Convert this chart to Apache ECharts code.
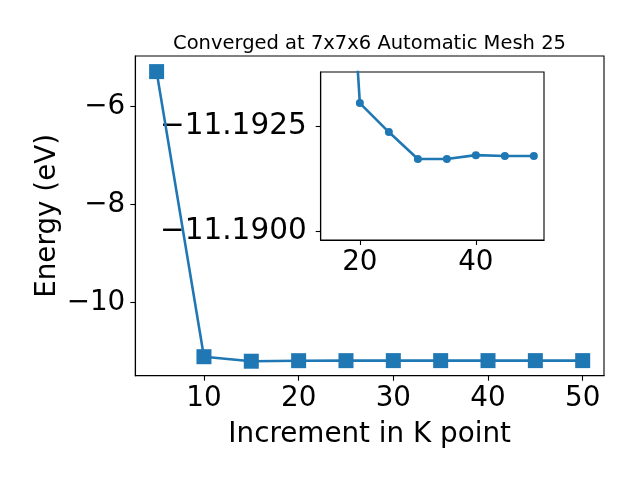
<!DOCTYPE html>
<html>
<head>
<meta charset="utf-8">
<script src="https://cdn.jsdelivr.net/npm/echarts@6/dist/echarts.min.js"></script>
<style>html,body{margin:0;padding:0;background:#fff}#c{width:640px;height:480px}</style>
</head>
<body>
<div id="c"></div>
<script>
// Main chart data
const kPoints = [5, 10, 15, 20, 25, 30, 35, 40, 45, 50];
const energies = [-5.284, -11.112, -11.204, -11.19306, -11.19237, -11.19173, -11.19173, -11.19182, -11.19180, -11.19180];
// Inset data (zoomed view of the same series, from 15 onward)
const insetK = [15, 20, 25, 30, 35, 40, 45, 50];
const insetE = [-11.204, -11.19306, -11.19237, -11.19173, -11.19173, -11.19182, -11.19180, -11.19180];
// Tick values
const mainXTicks = [10, 20, 30, 40, 50];
const mainYTicks = [-10, -8, -6];
const insetXTicks = [20, 40];
const insetYTicks = [-11.1925, -11.19];

const titleText = 'Converged at 7x7x6 Automatic Mesh 25';
const xName = 'Increment in K point';
const yName = 'Energy (eV)';

const FONT = 'DejaVu Sans';
const BLUE = '#1f77b4';
const minus = s => String(s).replace('-', '\u2212');

const chart = echarts.init(document.getElementById('c'), null, {renderer: 'canvas'});
const tickStyle = {show: true, inside: false, length: 5, lineStyle: {color: '#000', width: 1.1}};
const lineStyleAx = {show: true, lineStyle: {color: '#000', width: 1.1}};

chart.setOption({
  animation: false,
  backgroundColor: '#fff',
  title: {
    text: titleText, left: 364.5, top: 29, textAlign: 'center',
    textStyle: {fontFamily: FONT, fontSize: 19.5, fontWeight: 'normal', color: '#000'}
  },
  grid: [
    {left: 135.3, top: 56, width: 468.7, height: 319.7, show: true, borderColor: '#000', borderWidth: 1.1, backgroundColor: 'transparent', containLabel: false},
    {left: 320.7, top: 72, width: 223.3, height: 168, show: true, borderColor: '#000', borderWidth: 1.1, backgroundColor: '#fff', containLabel: false}
  ],
  xAxis: [
    {
      type: 'value', gridIndex: 0, min: 2.75, max: 52.25,
      name: xName, nameLocation: 'middle', nameGap: 45, nameMoveOverlap: false,
      nameTextStyle: {fontFamily: FONT, fontSize: 27.8, color: '#000'},
      axisLine: lineStyleAx, splitLine: {show: false},
      axisTick: Object.assign({customValues: mainXTicks}, tickStyle),
      axisLabel: {customValues: mainXTicks, fontFamily: FONT, fontSize: 27.8, color: '#000', margin: 9}
    },
    {
      type: 'value', gridIndex: 1, min: 13.25, max: 51.75,
      axisLine: lineStyleAx, splitLine: {show: false},
      axisTick: Object.assign({customValues: insetXTicks}, tickStyle),
      axisLabel: {customValues: insetXTicks, fontFamily: FONT, fontSize: 27.8, color: '#000', margin: 9}
    }
  ],
  yAxis: [
    {
      type: 'value', gridIndex: 0, min: -11.50, max: -4.965,
      name: yName, nameLocation: 'middle', nameGap: 74, nameRotate: 90, nameMoveOverlap: false,
      nameTextStyle: {fontFamily: FONT, fontSize: 27.8, color: '#000'},
      axisLine: lineStyleAx, splitLine: {show: false},
      axisTick: Object.assign({customValues: mainYTicks}, tickStyle),
      axisLabel: {customValues: mainYTicks, fontFamily: FONT, fontSize: 27.8, color: '#000', margin: 10, formatter: v => minus(v)}
    },
    {
      type: 'value', gridIndex: 1, inverse: true, min: -11.1938, max: -11.1898,
      axisLine: lineStyleAx, splitLine: {show: false},
      axisTick: Object.assign({customValues: insetYTicks}, tickStyle),
      axisLabel: {customValues: insetYTicks, fontFamily: FONT, fontSize: 29.5, color: '#000', margin: 14, formatter: v => minus(Number(v).toFixed(4))}
    }
  ],
  series: [
    {
      type: 'line', xAxisIndex: 0, yAxisIndex: 0,
      data: kPoints.map((k, i) => [k, energies[i]]),
      symbol: 'rect', symbolSize: 15,
      lineStyle: {color: BLUE, width: 2.6},
      itemStyle: {color: BLUE},
      clip: true, z: 2
    },
    {
      type: 'line', xAxisIndex: 1, yAxisIndex: 1,
      data: insetK.map((k, i) => [k, insetE[i]]),
      symbol: 'circle', symbolSize: 8,
      lineStyle: {color: BLUE, width: 2.6},
      itemStyle: {color: BLUE},
      clip: true, z: 3
    }
  ]
});
</script>
</body>
</html>
